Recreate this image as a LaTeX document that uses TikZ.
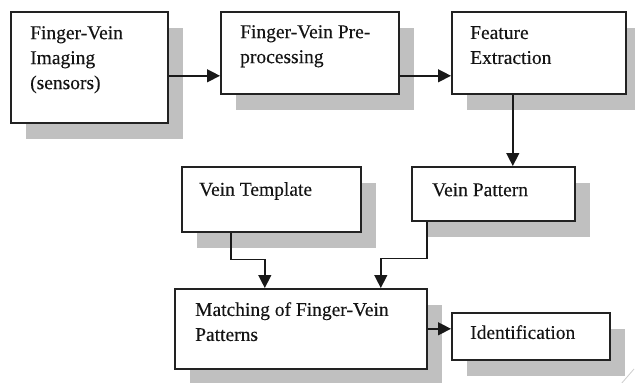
\documentclass[tikz,border=0pt]{standalone}
\usepackage{fontspec}
\setmainfont{Liberation Serif}
\newfontfamily\capface[FakeBold=0.2]{Liberation Serif}
\usetikzlibrary{arrows.meta,shadows}

\definecolor{edgeclr}{RGB}{34,34,34}
\definecolor{shadeclr}{RGB}{192,192,192}
\definecolor{inkclr}{RGB}{20,20,20}
\definecolor{markclr}{RGB}{205,205,205}

\tikzset{
  box/.style={draw=edgeclr, line width=1.6pt, fill=white, anchor=north west,
    inner sep=0pt,
    drop shadow={shadow xshift=15pt, shadow yshift=-16pt, fill=shadeclr, opacity=1}},
  txt/.style={anchor=north west, align=left, inner sep=0pt, text=inkclr,
    font=\capface\fontsize{19.5}{25}\selectfont},
  arr/.style={draw=black!90, line width=1.4pt,
    -{Triangle[length=13pt,width=13pt]}},
}

\begin{document}
\begin{tikzpicture}[x=1pt, y=-1pt]
  \useasboundingbox (0,0) rectangle (635,383);
  \clip (0,0) rectangle (635,383);

  % process boxes
  \node[box, minimum width=157pt, minimum height=111pt] (imaging) at (10,11) {};
  \node[box, minimum width=178pt, minimum height=82pt]  (preproc) at (220,11) {};
  \node[box, minimum width=174pt, minimum height=82pt]  (feature) at (451,11) {};
  \node[box, minimum width=179pt, minimum height=65pt]  (vtemp)   at (181,166) {};
  \node[box, minimum width=163pt, minimum height=54pt]  (vpat)    at (411,166) {};
  \node[box, minimum width=252pt, minimum height=80pt]  (match)   at (174,288) {};
  \node[box, minimum width=158pt, minimum height=47pt]  (ident)   at (451,312) {};

  % box captions
  \node[txt] (imaging-t) at ([xshift=20pt, yshift=-15pt]imaging.north west)
    {Finger-Vein\\Imaging\\(sensors)};
  \node[txt] (preproc-t) at ([xshift=20pt, yshift=-14pt]preproc.north west)
    {Finger-Vein Pre-\\processing};
  \node[txt] (feature-t) at ([xshift=19pt, yshift=-15pt]feature.north west)
    {Feature\\Extraction};
  \node[txt] (vtemp-t) at ([xshift=18pt, yshift=-16pt]vtemp.north west)
    {Vein Template};
  \node[txt] (vpat-t) at ([xshift=21pt, yshift=-17pt]vpat.north west)
    {Vein Pattern};
  \node[txt] (match-t) at ([xshift=21pt, yshift=-14pt]match.north west)
    {Matching of Finger-Vein\\Patterns};
  \node[txt] (ident-t) at ([xshift=19pt, yshift=-13pt]ident.north west)
    {Identification};

  % connectors
  \draw[arr] ([yshift=-8.5pt]imaging.east) -- ([yshift=-8.5pt]imaging.east -| preproc.west);
  \draw[arr] ([yshift=-23pt]preproc.east) -- ([yshift=-23pt]preproc.east -| feature.west);
  \draw[arr] ([xshift=-26pt]feature.south) -- ([xshift=-26pt]feature.south |- vpat.north);
  \draw[arr] ([xshift=-40.5pt]vtemp.south) -- ++(0,27) -| ([xshift=-36pt]match.north);
  \draw[arr] ([xshift=-66.5pt]vpat.south) -- ++(0,37) -| ([xshift=80pt]match.north);
  \draw[arr] (match.east) -- (match.east -| ident.west);

  % faint corner stroke
  \coordinate (mk1) at (621,384);
  \coordinate (mk2) at (634,369);
  \draw[markclr, line width=0.8pt] (mk1) -- (mk2);
\end{tikzpicture}
\end{document}
